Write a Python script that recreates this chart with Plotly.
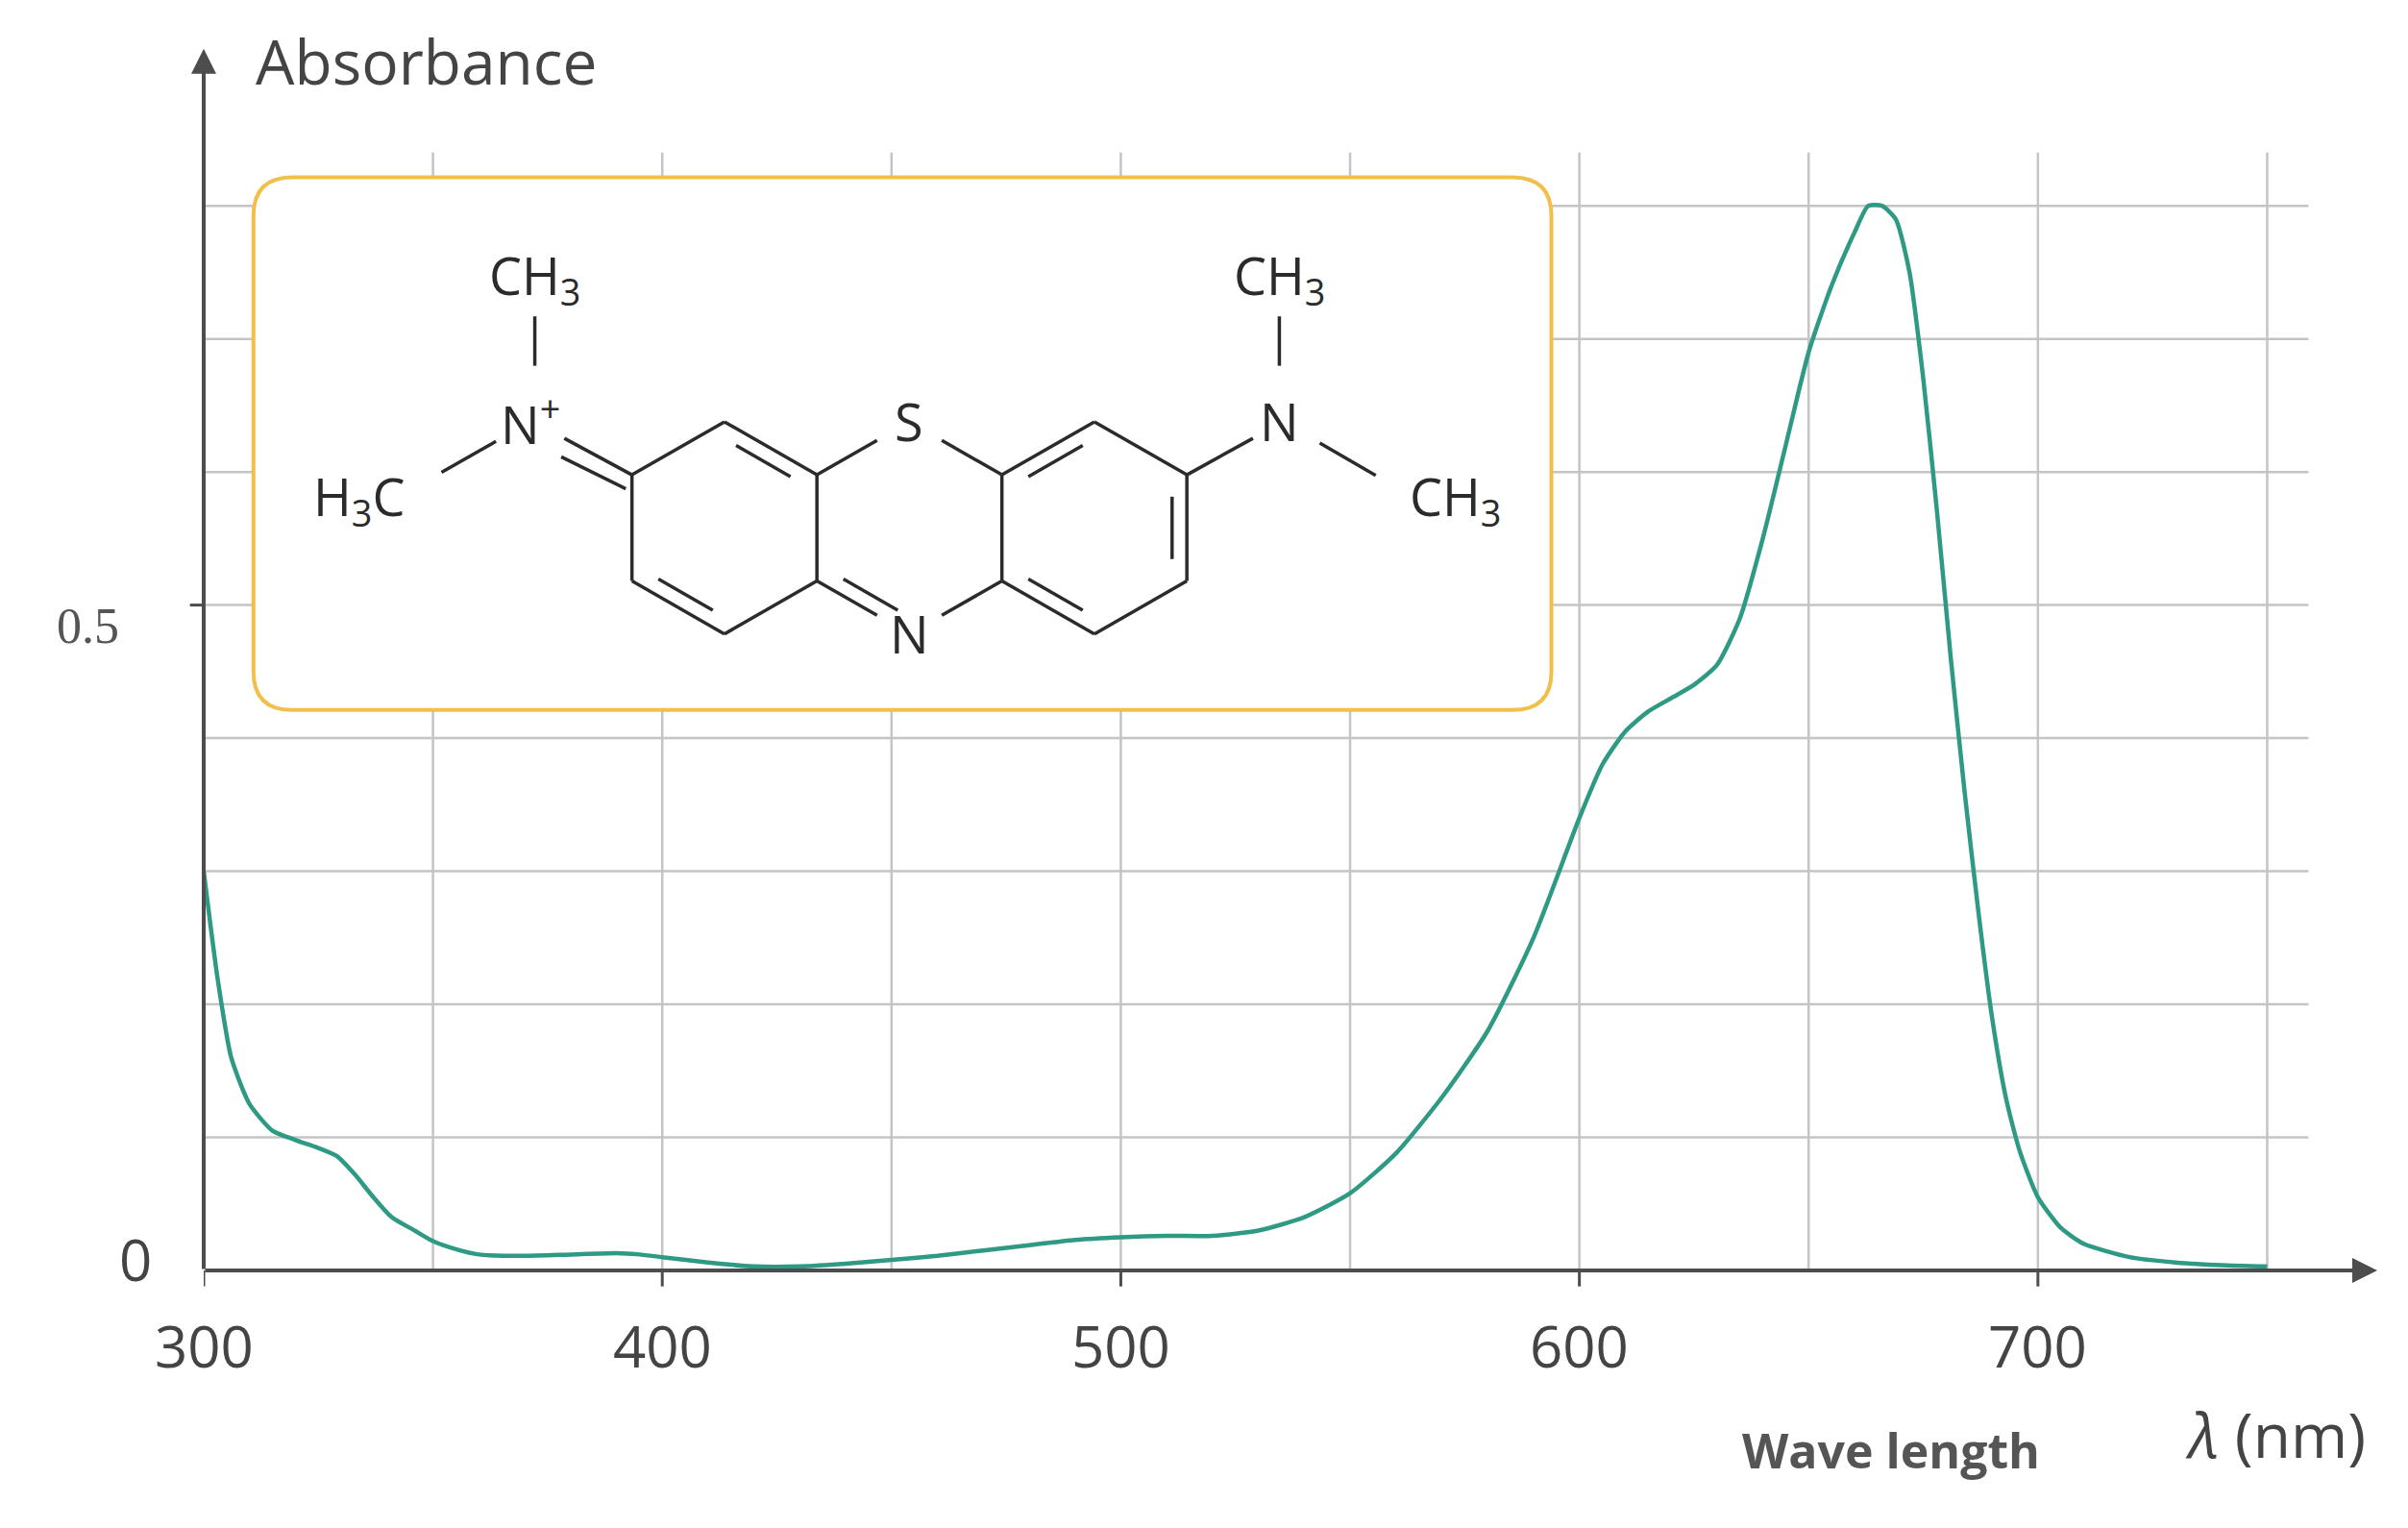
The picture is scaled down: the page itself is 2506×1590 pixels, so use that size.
import plotly.graph_objects as go
import math

wavelength = [300,303,306,310,315,320,325,329,333,337,341,346,350,355,360,370,380,390,395,400,410,420,430,440,450,460,470,480,490,500,510,520,530,540,550,560,570,580,590,600,605,610,615,620,625,630,635,640,645,650,655,660,663,666,669,672,675,678,681,684,687,690,693,696,700,705,710,720,730,740,750]
absorb = [0.30,0.22,0.16,0.125,0.105,0.098,0.092,0.086,0.072,0.055,0.04,0.03,0.022,0.016,0.012,0.011,0.012,0.013,0.012,0.010,0.006,0.003,0.003,0.005,0.008,0.011,0.015,0.019,0.023,0.025,0.026,0.026,0.030,0.040,0.058,0.088,0.13,0.18,0.25,0.34,0.38,0.405,0.42,0.43,0.44,0.455,0.49,0.55,0.62,0.69,0.74,0.78,0.80,0.80,0.79,0.75,0.67,0.57,0.46,0.36,0.27,0.19,0.13,0.09,0.055,0.032,0.02,0.01,0.006,0.004,0.003]
x_ticks = [300,400,500,600,700]
y_ticks = [0, 0.5]

XR = (300, 774)
YR = (0, 0.92)
def px_(v): return (v - XR[0]) / (XR[1] - XR[0])
def py_(v): return (v - YR[0]) / (YR[1] - YR[0])

GRAY = "#4d4d4d"
fig = go.Figure()
shapes = []
ann = []

for v in range(350, 751, 50):
    shapes.append(dict(type="line", x0=v, x1=v, y0=0, y1=0.84, line=dict(color="#c4c4c4", width=2.5), layer="below"))
for k in range(1, 9):
    shapes.append(dict(type="line", x0=300, x1=759, y0=k/10, y1=k/10, line=dict(color="#c4c4c4", width=2.5), layer="below"))

fig.add_trace(go.Scatter(x=wavelength, y=absorb, mode="lines", line=dict(color="#2e9a84", width=4.5, shape="spline", smoothing=0.6), hoverinfo="skip"))

ann.append(dict(x=774, y=0, ax=300, ay=0, xref="x", yref="y", axref="x", ayref="y", showarrow=True, arrowhead=2, arrowsize=1.3, arrowwidth=4, arrowcolor=GRAY, text=""))
ann.append(dict(x=300, y=0.918, ax=300, ay=0, xref="x", yref="y", axref="x", ayref="y", showarrow=True, arrowhead=2, arrowsize=1.3, arrowwidth=4, arrowcolor=GRAY, text=""))
shapes.append(dict(type="line", xref="paper", yref="paper", x0=px_(297), x1=px_(300), y0=py_(0.5), y1=py_(0.5), line=dict(color=GRAY, width=3)))
for t in x_ticks:
    shapes.append(dict(type="line", xref="x", yref="paper", x0=t, x1=t, y0=0, y1=py_(-0.012), line=dict(color=GRAY, width=3)))
    ann.append(dict(x=px_(t), y=py_(-0.025), xref="paper", yref="paper", text=str(t), showarrow=False, xanchor="center", yanchor="top", font=dict(family="Open Sans", size=60, color="#444")))
ann.append(dict(x=px_(289), y=py_(0.009), xref="paper", yref="paper", text="0", showarrow=False, xanchor="right", yanchor="middle", font=dict(family="Open Sans", size=60, color="#444")))
ann.append(dict(x=px_(282), y=py_(0.484), xref="paper", yref="paper", text="0.5", showarrow=False, xanchor="right", yanchor="middle", font=dict(family="Liberation Serif", size=52, color="#555")))
ann.append(dict(x=px_(311), y=py_(0.909), xref="paper", yref="paper", text="Absorbance", showarrow=False, xanchor="left", yanchor="middle", font=dict(family="Open Sans", size=64, color="#444")))
ann.append(dict(x=px_(668), y=py_(-0.135), xref="paper", yref="paper", text="<b>Wave length</b>", showarrow=False, xanchor="center", yanchor="middle", font=dict(family="Open Sans", size=50, color="#555")))
ann.append(dict(x=px_(772), y=py_(-0.123), xref="paper", yref="paper", text="<i>λ</i> (nm)", showarrow=False, xanchor="right", yanchor="middle", font=dict(family="Open Sans", size=64, color="#444")))

def d(px, py):
    return 300 + (px - 130) / 2.95, (818 - py) / 862

x0, y0 = d(162, 110); x1, y1 = d(997, 455)
rx, ry = 25 / 2.95, 25 / 862
path = (f"M {x0+rx} {y0} L {x1-rx} {y0} Q {x1} {y0} {x1} {y0-ry} L {x1} {y1+ry} Q {x1} {y1} {x1-rx} {y1} "
        f"L {x0+rx} {y1} Q {x0} {y1} {x0} {y1+ry} L {x0} {y0-ry} Q {x0} {y0} {x0+rx} {y0} Z")
shapes.append(dict(type="path", path=path, line=dict(color="#f2c04a", width=4), fillcolor="white", layer="above"))

def bond(p, q, w=3.5):
    a = d(*p); b = d(*q)
    shapes.append(dict(type="line", x0=a[0], y0=a[1], x1=b[0], y1=b[1], line=dict(color="#2b2b2b", width=w), layer="above"))

def inner(p, q, c, f=0.16, s=0.15):
    px = [p[0] + (c[0]-p[0])*f, p[1] + (c[1]-p[1])*f]
    qx = [q[0] + (c[0]-q[0])*f, q[1] + (c[1]-q[1])*f]
    dx, dy = qx[0]-px[0], qx[1]-px[1]
    bond((px[0]+dx*s, px[1]+dy*s), (qx[0]-dx*s, qx[1]-dy*s))

R = 68.7
def ring(cx, cy):
    return [(cx + R*math.cos(math.radians(a)), cy + R*math.sin(math.radians(a))) for a in (-90, -30, 30, 90, 150, 210)]

L = ring(465, 337); M = ring(584, 337); Rr = ring(703, 337)
for i in range(6):
    bond(L[i], L[(i+1) % 6])
    bond(Rr[i], Rr[(i+1) % 6])
def shorten(p, q, a=0.0, b=0.0):
    dx, dy = q[0]-p[0], q[1]-p[1]
    return (p[0]+dx*a, p[1]+dy*a), (q[0]-dx*b, q[1]-dy*b)
bond(*shorten(M[5], M[0], 0, 0.35)); bond(*shorten(M[0], M[1], 0.35, 0))
bond(*shorten(M[2], M[3], 0, 0.35)); bond(*shorten(M[4], M[3], 0, 0.35))
inner(M[4], M[3], (584, 337))
inner(L[0], L[1], (465, 337)); inner(L[3], L[4], (465, 337))
inner(Rr[0], Rr[5], (703, 337)); inner(Rr[1], Rr[2], (703, 337)); inner(Rr[3], Rr[4], (703, 337))
bond(L[5], (362, 279)); bond((L[5][0]-4, L[5][1]+9), (360, 291))
bond((343, 200), (343, 232))
bond((318, 281), (283, 301))
bond(Rr[1], (805, 279))
bond((822, 200), (822, 232))
bond((848, 282), (884, 303))

def lab(px, py, t, anchor="center"):
    x, y = d(px, py)
    ann.append(dict(x=x, y=y, xref="x", yref="y", text=t, showarrow=False, xanchor=anchor, yanchor="middle", font=dict(family="Open Sans", size=54, color="#2b2b2b")))
lab(343, 175, "CH<sub>3</sub>")
lab(340, 268, "N<sup>+</sup>")
lab(230, 318, "H<sub>3</sub>C")
lab(584, 268, "S")
lab(584, 405, "N")
lab(822, 175, "CH<sub>3</sub>")
lab(822, 268, "N")
lab(935, 318, "CH<sub>3</sub>")

fig.update_layout(
    width=2506, height=1590, plot_bgcolor="white", paper_bgcolor="white",
    margin=dict(l=204, r=40, t=40, b=276), showlegend=False,
    xaxis=dict(range=list(XR), visible=False),
    yaxis=dict(range=list(YR), visible=False),
    shapes=shapes, annotations=ann,
)
fig.write_html("out.html")
